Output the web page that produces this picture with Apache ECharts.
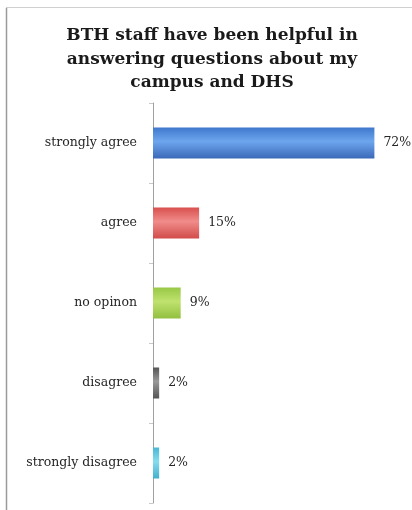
<!DOCTYPE html>
<html>
<head>
<meta charset="utf-8">
<script src="https://cdn.jsdelivr.net/npm/echarts@6/dist/echarts.min.js"></script>
<style>
  html, body { margin: 0; padding: 0; background: #fff; }
  #chart { width: 412px; height: 510px; }
</style>
</head>
<body>
<div id="chart"></div>
<script>
// Survey responses, top to bottom
const categories = ['strongly agree', 'agree', 'no opinon', 'disagree', 'strongly disagree'];
const percentValues = [72, 15, 9, 2, 2];
const chartTitle = 'BTH staff have been helpful in\nanswering questions about my\ncampus and DHS';

// Vertical gradient per bar: [edge, centre, edge]
const barShades = [
  ['#3f78cc', '#6ea6ee', '#3a68b8'],
  ['#d8504e', '#f08c8a', '#d24c4a'],
  ['#98c846', '#bfe26e', '#92c040'],
  ['#555555', '#999999', '#555555'],
  ['#48b8d6', '#86dcee', '#44b0cc']
];

function shade(c) {
  return new echarts.graphic.LinearGradient(0, 0, 0, 1, [
    { offset: 0, color: c[0] },
    { offset: 0.45, color: c[1] },
    { offset: 1, color: c[2] }
  ]);
}

const chart = echarts.init(document.getElementById('chart'), null, { renderer: 'canvas' });

chart.setOption({
  backgroundColor: '#ffffff',
  animation: false,
  title: {
    text: chartTitle,
    left: 207,
    top: 19,
    textAlign: 'center',
    textStyle: {
      fontFamily: 'DejaVu Serif',
      fontWeight: 'bold',
      fontSize: 17,
      lineHeight: 23.5,
      color: '#1a1a1a'
    }
  },
  graphic: [
    { type: 'line', shape: { x1: 6.5, y1: 8, x2: 6.5, y2: 510 }, style: { stroke: '#9a9a9a', lineWidth: 1.5 } },
    { type: 'line', shape: { x1: 6, y1: 7.5, x2: 412, y2: 7.5 }, style: { stroke: '#cfcfcf', lineWidth: 1 } }
  ],
  grid: { left: 153, right: 13, top: 103, bottom: 7, containLabel: false },
  xAxis: {
    type: 'value',
    min: 0,
    max: 80,
    show: false
  },
  yAxis: {
    type: 'category',
    data: categories,
    inverse: true,
    axisLine: { show: true, lineStyle: { color: '#a0a0a0', width: 1 } },
    axisTick: { show: true, length: 4, lineStyle: { color: '#c8c8c8' } },
    axisLabel: {
      margin: 16,
      fontFamily: 'DejaVu Serif',
      fontSize: 12.5,
      color: '#262626'
    }
  },
  series: [{
    type: 'bar',
    barWidth: 31,
    data: percentValues.map((v, i) => ({
      value: v,
      itemStyle: { color: shade(barShades[i]) }
    })),
    label: {
      show: true,
      position: 'right',
      distance: 9,
      formatter: p => p.value + '%',
      fontFamily: 'DejaVu Serif',
      fontSize: 12.5,
      color: '#262626'
    }
  }]
});
</script>
</body>
</html>
